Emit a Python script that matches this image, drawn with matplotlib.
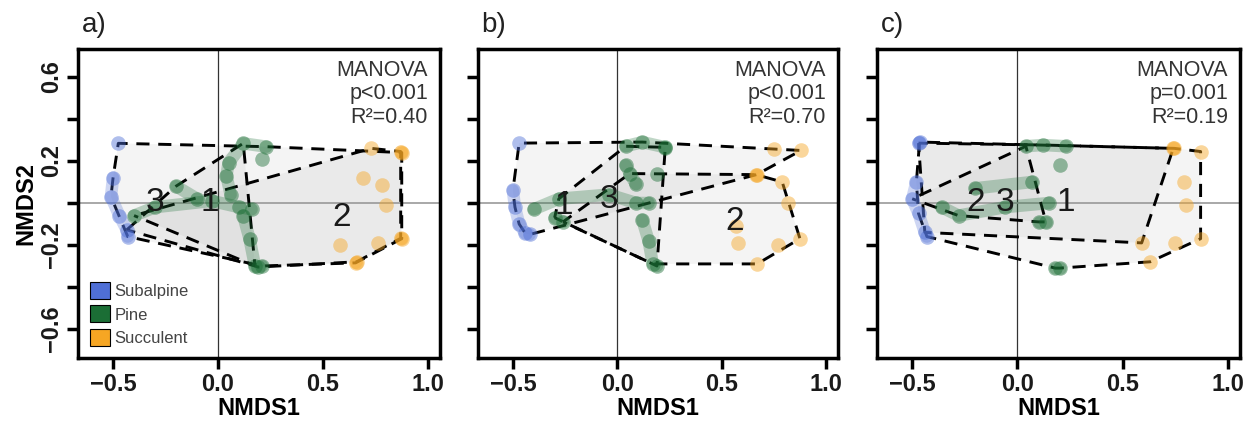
import matplotlib
matplotlib.use('Agg')
import matplotlib.pyplot as plt
from matplotlib.patches import Patch
import numpy as np

plt.rcParams['font.family'] = ['Liberation Sans', 'DejaVu Sans']

habitats = ['Subalpine', 'Pine', 'Succulent']
hab_codes = ['S', 'P', 'U']

# panel a: NMDS scores, habitat, site, cluster
a_x = [-0.475, -0.50, -0.51, -0.47, -0.435, -0.43,
       -0.40, -0.30, -0.03, 0.10, 0.16, -0.20, -0.10,
       0.06, 0.04, 0.05, 0.12, 0.23, 0.12, 0.15, 0.176, 0.19, 0.21, 0.21,
       0.73, 0.87, 0.875, 0.69, 0.78, 0.80, 0.87, 0.875, 0.76, 0.58, 0.66, 0.655]
a_y = [0.284, 0.12, 0.03, -0.06, -0.128, -0.16,
       -0.06, -0.02, 0.01, -0.02, -0.03, 0.08, 0.02,
       0.04, 0.13, 0.19, 0.284, 0.268, -0.06, -0.17, -0.30, -0.305, -0.30, 0.21,
       0.26, 0.245, 0.24, 0.12, 0.085, -0.01, -0.168, -0.17, -0.19, -0.20, -0.28, -0.285]
a_hab = ['S'] * 6 + ['P'] * 18 + ['U'] * 12
a_site = ['s1', 's2', 's2', 's2', 's2', 's2',
          'p1', 'p1', 'p1', 'p1', 'p1', 'p2', 'p2',
          'p3', 'p3', 'p3', 'p3', 'p3', 'p4', 'p4', 'p4', 'p4', 'p4', 'p5',
          'u1', 'u2', 'u2', 'u3', 'u4', 'u5', 'u6', 'u6', 'u7', 'u8', 'u9', 'u9']
a_clu = [3, 3, 3, 3, 1, 3,
         2, 3, 1, 1, 3, 1, 1,
         1, 1, 1, 1, 3, 1, 1, 1, 2, 3, 3,
         2, 2, 3, 2, 2, 2, 2, 3, 2, 2, 2, 3]

# panel b
b_x = [-0.47, -0.50, -0.49, -0.47, -0.44, -0.42,
       -0.40, -0.28, -0.04, 0.09, 0.15, 0.04, 0.09, 0.06,
       0.04, 0.12, 0.23, 0.23, 0.12, 0.15, 0.17, 0.19, -0.30, -0.26, 0.19,
       0.75, 0.88, 0.667, 0.665, 0.79, 0.82, 0.875, 0.77, 0.58, 0.57, 0.67]
b_y = [0.285, 0.06, -0.02, -0.10, -0.145, -0.15,
       -0.03, 0.02, 0.04, 0.0, 0.0, 0.18, 0.09, 0.14,
       0.27, 0.29, 0.265, 0.26, -0.08, -0.18, -0.29, -0.30, -0.07, -0.09, 0.14,
       0.255, 0.25, 0.135, 0.135, 0.10, 0.0, -0.17, -0.20, -0.19, -0.11, -0.29]
b_hab = ['S'] * 6 + ['P'] * 19 + ['U'] * 11
b_site = ['s1', 's2', 's2', 's2', 's2', 's2',
          'p1', 'p1', 'p1', 'p1', 'p1', 'p2', 'p2', 'p2',
          'p3', 'p3', 'p3', 'p3', 'p4', 'p4', 'p4', 'p4', 'p5', 'p5', 'p6',
          'u1', 'u2', 'u3', 'u3', 'u4', 'u5', 'u6', 'u7', 'u8', 'u9', 'u10']
b_clu = [3, 3, 3, 3, 3, 3,
         3, 1, 1, 1, 1, 1, 1, 2,
         1, 3, 1, 3, 1, 1, 2, 1, 1, 2, 1,
         3, 3, 3, 2, 2, 2, 2, 2, 2, 2, 2]

# panel c
c_x = [-0.465, -0.47, -0.48, -0.50, -0.47, -0.44, -0.43,
       -0.36, -0.28, -0.06, 0.15, -0.20, 0.07,
       0.04, 0.12, 0.23, 0.20, 0.135, 0.10, 0.18, 0.20,
       0.74, 0.745, 0.87, 0.79, 0.80, 0.87, 0.75, 0.59, 0.63]
c_y = [0.29, 0.285, 0.10, 0.02, -0.05, -0.14, -0.16,
       -0.02, -0.06, -0.02, 0.0, 0.07, 0.10,
       0.27, 0.276, 0.27, 0.18, -0.09, -0.09, -0.31, -0.31,
       0.26, 0.26, 0.245, 0.10, -0.01, -0.17, -0.19, -0.19, -0.28]
c_hab = ['S'] * 7 + ['P'] * 14 + ['U'] * 9
c_site = ['s1', 's1', 's2', 's2', 's2', 's2', 's2',
          'p1', 'p1', 'p1', 'p1', 'p2', 'p2',
          'p3', 'p3', 'p3', 'p5', 'p4', 'p4', 'p7', 'p7',
          'u1', 'u1', 'u2', 'u3', 'u4', 'u5', 'u6', 'u7', 'u8']
c_clu = [3, 1, 3, 2, 3, 1, 3,
         2, 2, 2, 1, 2, 1,
         2, 1, 3, 1, 2, 2, 3, 3,
         1, 3, 3, 3, 3, 3, 3, 1, 3]

# cluster number labels
a_lab = ['3', '1', '2']
a_lab_x = [-0.30, -0.04, 0.59]
a_lab_y = [0.0, 0.0, -0.07]
b_lab = ['1', '3', '2']
b_lab_x = [-0.255, -0.04, 0.56]
b_lab_y = [-0.01, 0.015, -0.09]
c_lab = ['2', '3', '1']
c_lab_x = [-0.20, -0.057, 0.23]
c_lab_y = [0.0, 0.0, 0.0]

p_vals = ['p<0.001', 'p<0.001', 'p=0.001']
r2_vals = ['0.40', '0.70', '0.19']
tags = ['a)', 'b)', 'c)']

colors = {'S': '#4f6fd6', 'P': '#1b6e35', 'U': '#f6a623'}


def convex_hull(pts):
    pts = sorted(set(pts))
    if len(pts) < 3:
        return pts

    def cross(o, a, b):
        return (a[0] - o[0]) * (b[1] - o[1]) - (a[1] - o[1]) * (b[0] - o[0])

    lower = []
    for p in pts:
        while len(lower) >= 2 and cross(lower[-2], lower[-1], p) <= 0:
            lower.pop()
        lower.append(p)
    upper = []
    for p in reversed(pts):
        while len(upper) >= 2 and cross(upper[-2], upper[-1], p) <= 0:
            upper.pop()
        upper.append(p)
    return lower[:-1] + upper[:-1]


def draw_panel(ax, xs, ys, habs, sites, clus, labs, lab_x, lab_y, pval, r2, tag, first):
    xs = np.array(xs)
    ys = np.array(ys)
    habs = np.array(habs)
    sites = np.array(sites)
    clus = np.array(clus)

    ax.axvline(0, color='#333333', lw=0.9, zorder=1.5)
    ax.axhline(0, color='#999999', lw=1.2, zorder=1.5)

    for k in sorted(set(clus)):
        m = clus == k
        h = convex_hull(list(zip(xs[m], ys[m])))
        hx = [p[0] for p in h] + [h[0][0]]
        hy = [p[1] for p in h] + [h[0][1]]
        ax.fill(hx, hy, color='#a8a8a8', alpha=0.12, lw=0, zorder=1)
        ax.plot(hx, hy, color='black', lw=2.1, ls=(k * 1.5, (4.5, 3)), zorder=2)

    for s in dict.fromkeys(sites):
        m = sites == s
        c = colors[habs[m][0]]
        if m.sum() > 1:
            ax.plot(xs[m], ys[m], color=c, lw=9, alpha=0.28,
                    solid_capstyle='round', solid_joinstyle='round', zorder=3)
        ax.plot(xs[m], ys[m], 'o', color=c, ms=10.5, mew=0, alpha=0.45, zorder=4)

    for t, x, y in zip(labs, lab_x, lab_y):
        ax.text(x, y, t, fontsize=24, ha='center', va='center', color='#1a1a1a', zorder=5)

    ax.text(0.967, 0.965, 'MANOVA\n' + pval + '\nR\u00b2=' + r2, transform=ax.transAxes,
            ha='right', va='top', fontsize=15.5, color='#333333', linespacing=1.15, zorder=6)
    ax.text(0.01, 1.035, tag, transform=ax.transAxes, ha='left', va='bottom',
            fontsize=20, color='#222222')

    ax.set_xlim(-0.667, 1.057)
    ax.set_ylim(-0.738, 0.733)
    ax.set_xticks([-0.5, 0.0, 0.5, 1.0])
    ax.set_xticklabels(['\u22120.5', '0.0', '0.5', '1.0'], fontweight='bold')
    ax.set_yticks([-0.6, -0.4, -0.2, 0.0, 0.2, 0.4, 0.6])
    if first:
        ax.set_yticklabels(['\u22120.6', '', '\u22120.2', '', '0.2', '', '0.6'],
                           fontweight='bold', rotation=90, va='center')
        ax.set_ylabel('NMDS2', fontsize=17, fontweight='bold')
        ax.yaxis.set_label_coords(-0.113, 0.5)
    else:
        ax.set_yticklabels([])
    ax.set_xlabel('NMDS1', fontsize=17, fontweight='bold')
    ax.xaxis.set_label_coords(0.5, -0.125)
    ax.tick_params(direction='out', length=8, width=2.5, labelsize=17, pad=3,
                   labelcolor='#1a1a1a')
    for sp in ax.spines.values():
        sp.set_linewidth(2.5)

    if first:
        handles = [Patch(facecolor=colors[c], edgecolor='black', linewidth=0.8, label=h)
                   for c, h in zip(hab_codes, habitats)]
        leg = ax.legend(handles=handles, loc='lower left', frameon=False, fontsize=12,
                        handlelength=1.2, handleheight=1.2, handletextpad=0.3,
                        labelspacing=0.4, borderaxespad=0.3, borderpad=0.4)
        for t in leg.get_texts():
            t.set_color('#444444')


fig = plt.figure(figsize=(12.52, 4.21), dpi=100)
ax_a = fig.add_axes([0.0623, 0.1496, 0.2891, 0.7340])
ax_b = fig.add_axes([0.3818, 0.1496, 0.2875, 0.7340])
ax_c = fig.add_axes([0.7005, 0.1496, 0.2899, 0.7340])

draw_panel(ax_a, a_x, a_y, a_hab, a_site, a_clu, a_lab, a_lab_x, a_lab_y,
           p_vals[0], r2_vals[0], tags[0], True)
draw_panel(ax_b, b_x, b_y, b_hab, b_site, b_clu, b_lab, b_lab_x, b_lab_y,
           p_vals[1], r2_vals[1], tags[1], False)
draw_panel(ax_c, c_x, c_y, c_hab, c_site, c_clu, c_lab, c_lab_x, c_lab_y,
           p_vals[2], r2_vals[2], tags[2], False)

fig.savefig('out.png', dpi=100)
